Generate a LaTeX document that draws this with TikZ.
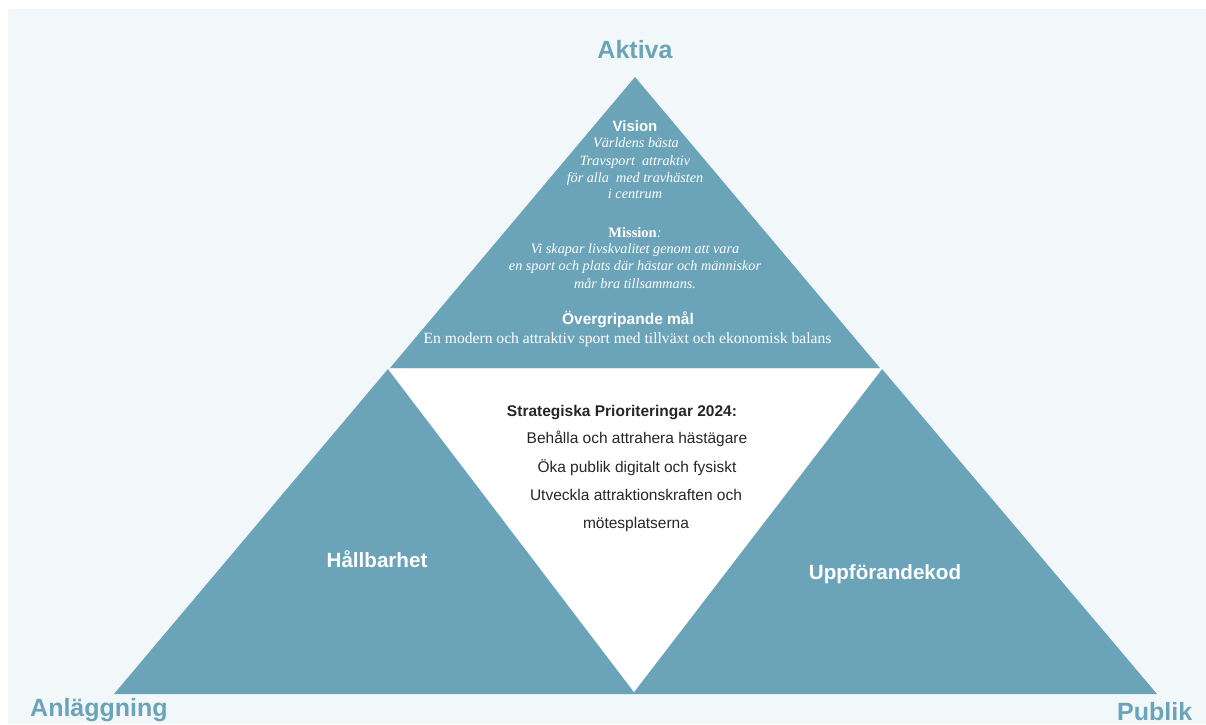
\documentclass[tikz,border=0pt]{standalone}
\usepackage{fontspec}
\setmainfont{Liberation Serif}
\newfontfamily\arialf{Liberation Sans}
\definecolor{teal}{HTML}{6BA4B9}
\definecolor{panel}{HTML}{F2F7FA}
\begin{document}
\begin{tikzpicture}[x=1pt,y=-1pt,
  corner/.style={font=\arialf\bfseries\fontsize{25}{30}\selectfont, text=teal, inner sep=0pt},
  wtitle/.style={font=\arialf\bfseries\fontsize{15}{18}\selectfont, text=white, inner sep=0pt, anchor=base},
  witalic/.style={font=\itshape\fontsize{14.2}{17}\selectfont, text=white, inner sep=0pt, anchor=base},
  wserif/.style={font=\fontsize{14.5}{17}\selectfont, text=white, inner sep=0pt, anchor=base},
  btext/.style={font=\arialf\fontsize{15.5}{18}\selectfont, text=black!85, inner sep=0pt, anchor=base},
  side/.style={font=\arialf\bfseries\fontsize{20.6}{24}\selectfont, text=white, inner sep=0pt, anchor=base}]
\useasboundingbox (0,0) rectangle (1206,724);
\fill[white] (0,0) rectangle (1206,724);
\fill[panel] (8,9) rectangle (1206,724);
% shapes
\fill[teal] (635,77) -- (390,368) -- (880,368) -- cycle;
\fill[teal] (114,694) -- (388,369) -- (882,369) -- (1157,694) -- cycle;
\fill[white] (388,369) -- (882,369) -- (634,692) -- cycle;
% corner labels
\node[corner, anchor=base] (aktiva) at (635,58) {Aktiva};
\node[corner, anchor=base west] (anl) at (30,716) {Anläggning};
\node[corner, anchor=base west] (publik) at (1117,720) {Publik};
% top triangle text
\node[wtitle] (vision) at (635,131) {Vision};
\node[witalic] (v1) at (636,147) {Världens bästa};
\node[witalic] (v2) at (635,165) {Travsport\ \ attraktiv};
\node[witalic] (v3) at (635,182) {för alla\ \ med travhästen};
\node[witalic] (v4) at (635,198) {i centrum};
\node[wserif] (mission) at (635,237) {\textbf{Mission}\textit{:}};
\node[witalic] (m1) at (635,253) {Vi skapar livskvalitet genom att vara};
\node[witalic] (m2) at (635,270) {en sport och plats där hästar och människor};
\node[witalic] (m3) at (635,288) {mår bra tillsammans.};
\node[wtitle, font=\arialf\bfseries\fontsize{15.5}{18}\selectfont] (mal) at (628,324) {Övergripande mål};
\node[wserif, font=\fontsize{15.6}{18}\selectfont] (mal1) at (627.5,343) {En modern och attraktiv sport med tillväxt och ekonomisk balans};
% middle text
\node[btext, font=\arialf\bfseries\fontsize{15.5}{18}\selectfont] (strat) at (622,416) {Strategiska Prioriteringar 2024:};
\node[btext] (s1) at (637,443) {Behålla och attrahera hästägare};
\node[btext] (s2) at (637,472) {Öka publik digitalt och fysiskt};
\node[btext] (s3) at (636,500) {Utveckla attraktionskraften och};
\node[btext] (s4) at (636,528) {mötesplatserna};
% side labels
\node[side] (hall) at (377,567) {Hållbarhet};
\node[side] (uppf) at (885,579) {Uppförandekod};
\end{tikzpicture}
\end{document}
